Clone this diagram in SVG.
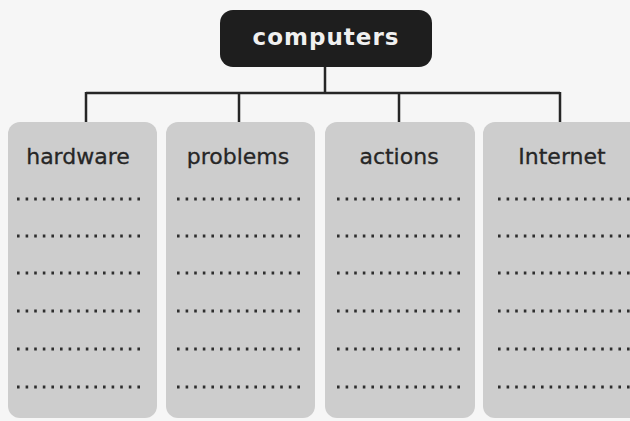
<svg xmlns="http://www.w3.org/2000/svg" width="630" height="421" viewBox="0 0 630 421">
<style>
.col{fill:#cdcdcd;}
.lbl{font-family:"DejaVu Sans",sans-serif;font-size:22px;fill:#262626;text-anchor:middle;stroke:#262626;stroke-width:0.3;}
.dots{stroke:#2e2e2e;stroke-width:2.8;stroke-dasharray:2.6 6;}
.conn{stroke:#262626;stroke-width:2.5;fill:none;}
</style>
<rect width="630" height="421" fill="#f6f6f6"/>
<g id="connectors">
<path class="conn" d="M325 66V93M86 93H560M86 92V122M239 92V122M399 92V122M560 92V122"/>
</g>
<g id="computers">
<rect x="220" y="10" width="212" height="57" rx="13" fill="#1e1e1e"/>
<text x="326" y="45" font-family="DejaVu Sans,sans-serif" font-size="23" font-weight="bold" letter-spacing="1" fill="#f0f0f0" text-anchor="middle">computers</text>
</g>
<g id="hardware">
<rect class="col" x="8" y="122" width="149" height="296" rx="12"/>
<text class="lbl" x="78" y="164">hardware</text>
<path class="dots" d="M17 199H140M17 236H140M17 273H140M17 311H140M17 349H140M17 387H140"/>
</g>
<g id="problems">
<rect class="col" x="166" y="122" width="149" height="296" rx="12"/>
<text class="lbl" x="238" y="164">problems</text>
<path class="dots" d="M177 199H302M177 236H302M177 273H302M177 311H302M177 349H302M177 387H302"/>
</g>
<g id="actions">
<rect class="col" x="325" y="122" width="150" height="296" rx="12"/>
<text class="lbl" x="399" y="164">actions</text>
<path class="dots" d="M337 199H464M337 236H464M337 273H464M337 311H464M337 349H464M337 387H464"/>
</g>
<g id="internet">
<rect class="col" x="483" y="122" width="160" height="296" rx="12"/>
<text class="lbl" x="562" y="164">Internet</text>
<path class="dots" d="M498 199H630M498 236H630M498 273H630M498 311H630M498 349H630M498 387H630"/>
</g>
</svg>
